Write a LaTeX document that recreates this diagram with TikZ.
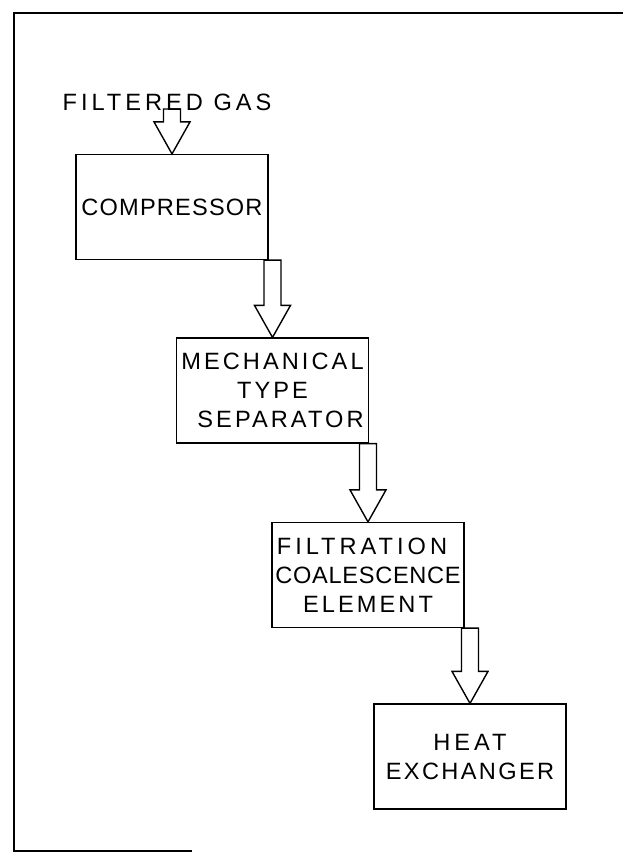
\documentclass[tikz,border=0pt]{standalone}
\usepackage{fontspec}
\setmainfont{Liberation Sans}
\usetikzlibrary{calc}

\tikzset{
  unit/.style={draw, line width=0.6pt, minimum width=96pt, minimum height=52.5pt,
    inner sep=0pt, align=center, font=\fontsize{11.8}{14.5}\selectfont},
  feedlabel/.style={anchor=base, inner sep=0pt, font=\fontsize{11.8}{14.5}\selectfont},
  flow/.style={line width=0.7pt, line join=miter},
  frame/.style={line width=1pt}
}

% letter spaced lettering
\newcommand{\ls}[2]{{\addfontfeatures{LetterSpace=#1}#2}}

% hollow block arrow, tip on the top of the next unit
\newcommand{\flowarrow}[2]{%
  \draw[flow] let \p1=(#1), \p2=(#2) in
    (\x2-4.25pt,\y1) -- (\x2-4.25pt,\y2+16pt) -- (\x2-9pt,\y2+16pt) -- (\x2,\y2)
    -- (\x2+9pt,\y2+16pt) -- (\x2+4.25pt,\y2+16pt) -- (\x2+4.25pt,\y1) -- cycle;
}

\begin{document}
\begin{tikzpicture}[x=0.5pt,y=-0.5pt]

	\useasboundingbox (0,0) rectangle (623,853);

	% Frame
	\draw[frame] (623,13) -- (14,13) -- (14,851) -- (192,851);

	% Units
	\node[unit] (comp) at (172,207) {\ls{5}{COMPRESSOR}};
	\node[unit] (mech) at (272.5,390.5) {\ls{13}{MECHANICAL}\\\ls{13}{TYPE}\\\hspace*{8pt}\ls{13}{SEPARATOR}};
	\node[unit] (filt) at (368,575) {\ls{17}{FILTRATION}\hspace*{6pt}\\\ls{3}{COALESCENCE}\\\ls{13}{ELEMENT}};
	\node[unit] (heat) at (470,756.5) {\ls{17}{HEAT}\\\ls{10}{EXCHANGER}};

	% Feed
	\node[feedlabel] (feed) at (167,110) {\ls{17}{FILTERED GAS}};
	\coordinate (feedin) at (173,109);

	% Flow arrows
	\flowarrow{feedin}{comp.north}
	\flowarrow{comp.south east}{mech.north}
	\flowarrow{mech.south east}{filt.north}
	\flowarrow{filt.south east}{heat.north}

\end{tikzpicture}
\end{document}
